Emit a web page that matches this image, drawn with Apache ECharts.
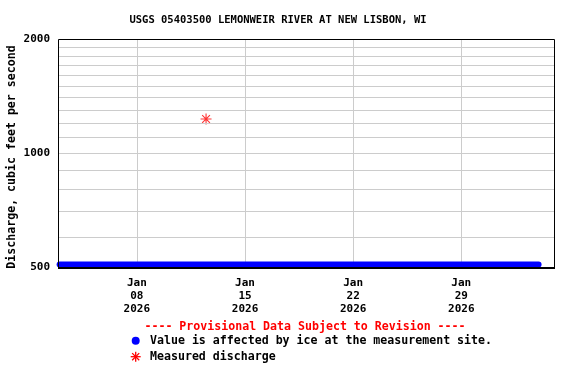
<!DOCTYPE html>
<html>
<head>
<meta charset="utf-8">
<script src="https://cdn.jsdelivr.net/npm/echarts@6/dist/echarts.min.js"></script>
<style>html,body{margin:0;padding:0;background:#fff}#c{width:576px;height:384px}</style>
</head>
<body>
<div id="c"></div>
<script>
const iceDates = ['2026-01-03T00:00','2026-01-04T00:00','2026-01-05T00:00','2026-01-06T00:00','2026-01-07T00:00','2026-01-08T00:00','2026-01-09T00:00','2026-01-10T00:00','2026-01-11T00:00','2026-01-12T00:00','2026-01-13T00:00','2026-01-14T00:00','2026-01-15T00:00','2026-01-16T00:00','2026-01-17T00:00','2026-01-18T00:00','2026-01-19T00:00','2026-01-20T00:00','2026-01-21T00:00','2026-01-22T00:00','2026-01-23T00:00','2026-01-24T00:00','2026-01-25T00:00','2026-01-26T00:00','2026-01-27T00:00','2026-01-28T00:00','2026-01-29T00:00','2026-01-30T00:00','2026-01-31T00:00','2026-02-01T00:00','2026-02-02T00:00','2026-02-03T00:00'];
const iceValues = [508,508,508,508,508,508,508,508,508,508,508,508,508,508,508,508,508,508,508,508,508,508,508,508,508,508,508,508,508,508,508,508];
const measuredDates = ['2026-01-12T11:30'];
const measuredValues = [1230];
const xTickDates = ['2026-01-08T00:00','2026-01-15T00:00','2026-01-22T00:00','2026-01-29T00:00'];
const yTickLabels = [500, 1000, 2000];
const yGridValues = [600,700,800,900,1000,1100,1200,1300,1400,1500,1600,1700,1800,1900];
const titleText = 'USGS 05403500 LEMONWEIR RIVER AT NEW LISBON, WI';
const yAxisTitle = 'Discharge, cubic feet per second';
const provisionalText = '---- Provisional Data Subject to Revision ----';
const legendIce = 'Value is affected by ice at the measurement site.';
const legendMeasured = 'Measured discharge';

const FONT = '"DejaVu Sans Mono", monospace';
const MON = ['Jan','Feb','Mar','Apr','May','Jun','Jul','Aug','Sep','Oct','Nov','Dec'];
const t = s => new Date(s).getTime();
const asteriskPath = 'M0 5.4L12 5.4L12 6.6L0 6.6Z M5.4 0L6.6 0L6.6 12L5.4 12Z M2.18 1.34L10.66 9.82L9.82 10.66L1.34 2.18Z M10.66 2.18L2.18 10.66L1.34 9.82L9.82 1.34Z';

// legend asterisk made of four strokes
const lcx = 135.7, lcy = 356.7, lr = 5;
const legendStar = [[1,0],[0,1],[0.7071,0.7071],[0.7071,-0.7071]].map(([dx, dy]) => ({
  type: 'line',
  shape: {x1: lcx - lr*dx, y1: lcy - lr*dy, x2: lcx + lr*dx, y2: lcy + lr*dy},
  style: {stroke: '#ff0000', lineWidth: 1.3}
}));

const chart = echarts.init(document.getElementById('c'), null, {renderer: 'canvas'});
chart.setOption({
  animation: false,
  backgroundColor: '#fff',
  grid: {left: 58, top: 39, width: 496, height: 228, show: false},
  xAxis: {
    type: 'value',
    min: t('2026-01-02T21:30'),
    max: t('2026-02-04T00:00'),
    axisLine: {show: false},
    axisTick: {show: false, customValues: xTickDates.map(t)},
    splitLine: {show: true, lineStyle: {color: '#cccccc', width: 1}},
    axisLabel: {
      customValues: xTickDates.map(t),
      margin: 10,
      fontFamily: FONT, fontWeight: 'bold', fontSize: 11, color: '#000', lineHeight: 13,
      formatter: v => { const d = new Date(v); return MON[d.getMonth()] + '\n' + String(d.getDate()).padStart(2,'0') + '\n' + d.getFullYear(); }
    }
  },
  yAxis: {
    type: 'log', logBase: 10, min: 500, max: 2000,
    axisLine: {show: false},
    axisTick: {show: false},
    splitLine: {show: false},
    axisLabel: {
      customValues: yTickLabels, margin: 8,
      fontFamily: FONT, fontWeight: 'bold', fontSize: 11, color: '#000',
      formatter: v => String(Math.round(v))
    }
  },
  series: [
    {
      type: 'line', name: 'grid', silent: true, data: [],
      markLine: {
        silent: true, symbol: ['none', 'none'], animation: false,
        label: {show: false},
        lineStyle: {color: '#cccccc', width: 1, type: 'solid'},
        emphasis: {disabled: true},
        data: yGridValues.map(v => ({yAxis: v}))
      },
      z: 1
    },
    {
      type: 'line', name: legendIce, clip: false, showSymbol: false,
      data: iceDates.map((d, i) => [t(d), iceValues[i]]),
      lineStyle: {color: '#0000ff', width: 6, cap: 'round', join: 'round'},
      z: 3
    },
    {
      type: 'scatter', name: legendMeasured,
      data: measuredDates.map((d, i) => [t(d), measuredValues[i]]),
      symbol: 'path://' + asteriskPath, symbolSize: 11,
      itemStyle: {color: '#ff0000'},
      z: 4
    }
  ],
  graphic: [
    {type: 'text', x: 278, y: 20,
      style: {text: titleText, fontFamily: FONT, fontWeight: 'bold', fontSize: 10.5, fill: '#000', align: 'center', verticalAlign: 'middle'}},
    {type: 'rect', z: 100, shape: {x: 58.5, y: 39.5, width: 496, height: 228}, style: {fill: null, stroke: '#000', lineWidth: 1}},
    {type: 'line', z: 100, shape: {x1: 58, y1: 268, x2: 555, y2: 268}, style: {stroke: '#000', lineWidth: 2}},
    {type: 'text', rotation: Math.PI / 2, x: 12, y: 157,
      style: {text: yAxisTitle, fontFamily: FONT, fontWeight: 'bold', fontSize: 11.6, fill: '#000', align: 'center', verticalAlign: 'middle'}},
    {type: 'text', x: 305, y: 327,
      style: {text: provisionalText, fontFamily: FONT, fontWeight: 'bold', fontSize: 11.6, fill: '#ff0000', align: 'center', verticalAlign: 'middle'}},
    {type: 'circle', shape: {cx: 135.7, cy: 340.7, r: 4}, style: {fill: '#0000ff'}},
    {type: 'text', x: 150, y: 341,
      style: {text: legendIce, fontFamily: FONT, fontWeight: 'bold', fontSize: 11.6, fill: '#000', align: 'left', verticalAlign: 'middle'}},
    ...legendStar,
    {type: 'text', x: 150, y: 357,
      style: {text: legendMeasured, fontFamily: FONT, fontWeight: 'bold', fontSize: 11.6, fill: '#000', align: 'left', verticalAlign: 'middle'}}
  ]
});
</script>
</body>
</html>
